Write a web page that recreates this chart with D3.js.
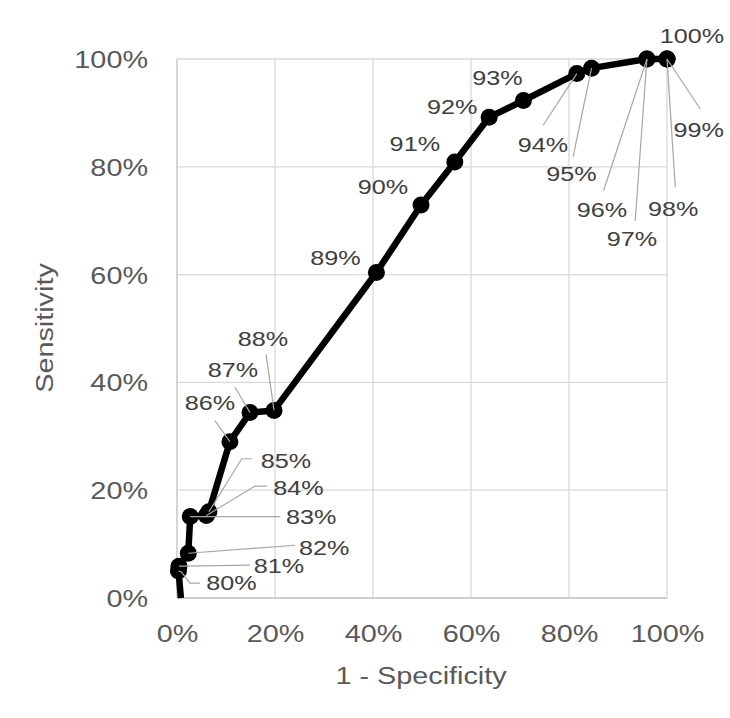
<!DOCTYPE html>
<html>
<head>
<meta charset="utf-8">
<script src="https://cdn.jsdelivr.net/npm/d3@7"></script>
<style>
  html, body { margin: 0; padding: 0; background: #fff; }
  svg { display: block; }
  text { font-family: "Liberation Sans", Arial, sans-serif; }
</style>
</head>
<body>
<svg id="chart" width="730" height="718"></svg>
<script>
// ---- data ----
const startPoint = { fpr: 0.8, sens: 0 };               // curve start (no marker)
const thresholds = ["80%","81%","82%","83%","84%","85%","86%","87%","88%","89%","90%","91%","92%","93%","94%","95%","96%","97%","98%","99%","100%"];
const fprValues  = [0.3, 0.4, 2.3, 2.7, 6.0, 6.5, 10.8, 14.9, 19.8, 40.7, 49.8, 56.7, 63.7, 70.7, 81.6, 84.6, 95.9, 95.9, 100, 100, 100];
const sensValues = [5.0, 5.9, 8.3, 15.1, 15.3, 16.0, 29.0, 34.4, 34.8, 60.4, 72.9, 80.9, 89.2, 92.3, 97.3, 98.3, 100, 100, 100, 100, 100];
const xTicks = [0, 20, 40, 60, 80, 100];
const yTicks = [0, 20, 40, 60, 80, 100];
const xTitle = "1 - Specificity";
const yTitle = "Sensitivity";

// ---- layout: label centre offset (dx,dy) from its point, and leader end points ----
const labelLayout = [
  { dx: 53,  dy: 12,   leader: [[3,1],[11.5,12],[21.5,12]] },
  { dx: 100, dy: -1,   leader: [[3,0],[71,-1]] },
  { dx: 136, dy: -6,   leader: [[107,-8]] },
  { dx: 121, dy: 0,    leader: [[90,0]] },
  { dx: 92,  dy: -27.5,leader: [[48.6,-29.5],[60.6,-29.5]] },
  { dx: 77,  dy: -51,  leader: [[33,-53],[43,-53]] },
  { dx: -20, dy: -39,  leader: [[-15,-21]] },
  { dx: -17, dy: -42.7,leader: [[-15,-25.4]] },
  { dx: -11, dy: -72,  leader: [[-8,-56]] },
  { dx: -41, dy: -15,  leader: null },
  { dx: -38, dy: -18.5,leader: null },
  { dx: -40, dy: -18.4,leader: null },
  { dx: -37, dy: -10.6,leader: null },
  { dx: -26, dy: -23,  leader: null },
  { dx: -34, dy: 70.7, leader: [[-33.7,51.7]] },
  { dx: -20, dy: 105.7,leader: [[-18.4,88.4]] },
  { dx: -45, dy: 150.7,leader: [[-43.4,131.7]] },
  { dx: -15, dy: 179.7,leader: [[-11.7,161.7]] },
  { dx: 6.3, dy: 149.2,leader: [[8.3,128.4]] },
  { dx: 31.6,dy: 70.7, leader: [[33.3,50]] },
  { dx: 25,  dy: -23.3,leader: null }
];

const svg = d3.select("#chart");
const plot = { left: 177, right: 667, top: 59, bottom: 598 };
const x = d3.scaleLinear().domain([0, 100]).range([plot.left, plot.right]);
const y = d3.scaleLinear().domain([0, 100]).range([plot.bottom, plot.top]);
const SX = 1.2; // horizontal stretch of the text in the reference

// gridlines
const g = svg.append("g");
g.selectAll("line.vg").data(xTicks.filter(t => t > 0)).join("line")
  .attr("x1", d => x(d)).attr("x2", d => x(d))
  .attr("y1", plot.top).attr("y2", plot.bottom)
  .attr("stroke", "#d9d9d9").attr("stroke-width", 1.3);
g.selectAll("line.hg").data(yTicks.filter(t => t > 0)).join("line")
  .attr("x1", plot.left).attr("x2", plot.right)
  .attr("y1", d => y(d)).attr("y2", d => y(d))
  .attr("stroke", "#d9d9d9").attr("stroke-width", 1.3);
// axis lines
g.append("line").attr("x1", plot.left).attr("x2", plot.left).attr("y1", plot.top).attr("y2", plot.bottom)
  .attr("stroke", "#bfbfbf").attr("stroke-width", 1.3);
g.append("line").attr("x1", plot.left).attr("x2", plot.right).attr("y1", plot.bottom).attr("y2", plot.bottom)
  .attr("stroke", "#bfbfbf").attr("stroke-width", 1.3);

// tick labels (via d3 axes, then restyled)
const fmt = d => d + "%";
const xAxis = svg.append("g").attr("transform", `translate(0,${plot.bottom})`)
  .call(d3.axisBottom(x).tickValues(xTicks).tickFormat(fmt).tickSize(0).tickPadding(0));
xAxis.select(".domain").remove();
xAxis.selectAll("text")
  .attr("y", 0).attr("dy", null)
  .attr("transform", `translate(0,44) scale(${SX},1)`)
  .attr("x", 0)
  .style("font-size", "24px").attr("fill", "#595959");
xAxis.selectAll(".tick").each(function() {
  const t = d3.select(this);
  const tx = +t.attr("transform").match(/translate\(([^,]+)/)[1];
  t.select("text").attr("transform", `translate(0,44) scale(${SX},1)`);
});

const yAxis = svg.append("g").attr("transform", `translate(148,0)`)
  .call(d3.axisLeft(y).tickValues(yTicks).tickFormat(fmt).tickSize(0).tickPadding(0));
yAxis.select(".domain").remove();
yAxis.selectAll("text")
  .attr("x", 0).attr("dy", "0.35em")
  .attr("transform", `scale(${SX},1)`)
  .style("font-size", "24px").attr("fill", "#595959");

// axis titles
svg.append("text")
  .attr("transform", `translate(421,676) scale(${SX},1)`)
  .attr("text-anchor", "middle").attr("dy", "0.35em")
  .style("font-size", "24px").attr("fill", "#595959")
  .text(xTitle);
svg.append("text")
  .attr("transform", `translate(45,328) rotate(-90) scale(${SX},1)`)
  .attr("text-anchor", "middle").attr("dy", "0.35em")
  .style("font-size", "24px").attr("fill", "#595959")
  .text(yTitle);

// data
const pts = thresholds.map((t, i) => ({ label: t, fpr: fprValues[i], sens: sensValues[i], lay: labelLayout[i] }));
const linePts = [startPoint].concat(pts);

svg.append("path").datum(linePts)
  .attr("fill", "none").attr("stroke", "#000").attr("stroke-width", 6.5)
  .attr("stroke-linejoin", "round")
  .attr("d", d3.line().x(d => x(d.fpr)).y(d => y(d.sens)));

svg.append("g").selectAll("circle").data(pts).join("circle")
  .attr("cx", d => x(d.fpr)).attr("cy", d => y(d.sens)).attr("r", 8.5)
  .attr("fill", "#000");

// leader lines
svg.append("g").selectAll("path").data(pts.filter(d => d.lay.leader)).join("path")
  .attr("fill", "none").attr("stroke", "#a6a6a6").attr("stroke-width", 1.2)
  .attr("d", d => {
    const px = x(d.fpr), py = y(d.sens);
    return d3.line()([[px, py]].concat(d.lay.leader.map(p => [px + p[0], py + p[1]])));
  });

// data labels
svg.append("g").selectAll("text").data(pts).join("text")
  .attr("transform", d => `translate(${x(d.fpr) + d.lay.dx},${y(d.sens) + d.lay.dy}) scale(${SX},1)`)
  .attr("text-anchor", "middle").attr("dy", "0.35em")
  .style("font-size", "21px").attr("fill", "#404040")
  .text(d => d.label);
</script>
</body>
</html>
